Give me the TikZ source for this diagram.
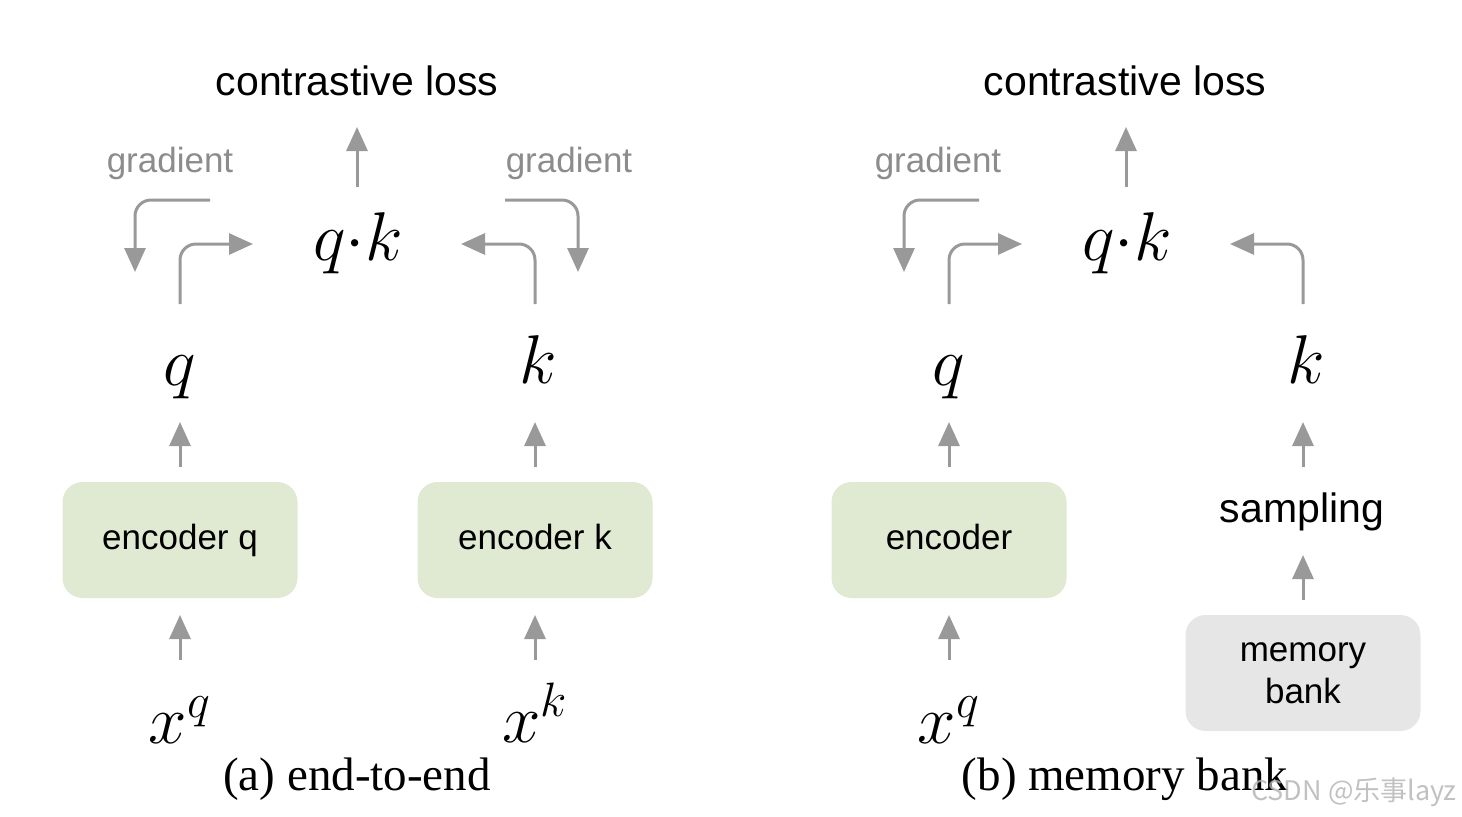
\RequirePackage{fix-cm}
\documentclass[tikz,border=0pt]{standalone}
\usepackage[no-math]{fontspec}
\setmainfont{Liberation Serif}
\setsansfont{Liberation Sans}
\newfontfamily\cjkfont{Noto Sans CJK SC}
\usetikzlibrary{arrows.meta}
\definecolor{arrgray}{RGB}{153,153,153}
\definecolor{txtgray}{RGB}{140,140,140}
\definecolor{encgreen}{RGB}{224,234,211}
\definecolor{memgray}{RGB}{230,230,230}
\begin{document}
\begin{tikzpicture}[x=0.5pt,y=-0.5pt,
  arr/.style={draw=arrgray, line width=1.5pt, -{Triangle[length=12pt,width=10.5pt]}},
  bendarr/.style={arr, rounded corners=8pt},
  lbl/.style={font=\sffamily\fontsize{20.5}{24}\selectfont, text=black, inner sep=0, anchor=base},
  grad/.style={font=\sffamily\fontsize{17.5}{21}\selectfont, text=txtgray, inner sep=0, anchor=base},
  mth/.style={font=\fontsize{34.5}{40}\selectfont, inner sep=0, anchor=base},
  encbox/.style={fill=encgreen, rounded corners=10pt, minimum width=117.5pt, minimum height=58pt, inner sep=0,
    font=\sffamily\fontsize{17.5}{21}\selectfont, align=center},
  encboxtxt/.style={encbox, text height=12.6pt, text depth=3.2pt},
  membox/.style={encbox, fill=memgray},
  captxt/.style={font=\rmfamily\fontsize{23.5}{28}\selectfont, inner sep=0, anchor=base}]
\useasboundingbox (0,0) rectangle (1462,816);

% ---------- (a) end-to-end ----------
\node[lbl] (lossA) at (357,95) {contrastive loss};
\node[mth] (qkA) at (358,260) {$q{\cdot}k$};
\node[grad] (gradAL) at (170,172) {gradient};
\node[grad] (gradAR) at (569,172) {gradient};
\node[mth] (qA) at (180,385) {$q$};
\node[mth] (kA) at (538,383) {$k$};
\node[encboxtxt] (encq) at (180,540) {encoder q};
\node[encboxtxt] (enck) at (535,540) {encoder k};
\node[mth] (xqA) at (180,743) {$x^q$};
\node[mth] (xkA) at (535,742) {$x^k$};
\node[captxt] (capA) at (357,790) {(a) end-to-end};

\coordinate (lA1) at (357,187); \coordinate (lA2) at (357,127);
\draw[arr] (lA1) -- (lA2);
% left gradient
\coordinate (gAL1) at (210,200); \coordinate (gAL2) at (135,272);
\draw[bendarr] (gAL1) -| (gAL2);
% left forward
\coordinate (fAL1) at (180,304); \coordinate (fAL2) at (253,244);
\draw[bendarr] (fAL1) |- (fAL2);
% right forward
\coordinate (fAR1) at (535,304); \coordinate (fAR2) at (461,244);
\draw[bendarr] (fAR1) |- (fAR2);
% right gradient
\coordinate (gAR1) at (505,200); \coordinate (gAR2) at (578,272);
\draw[bendarr] (gAR1) -| (gAR2);
% vertical arrows
\coordinate (a1) at (180,467); \coordinate (a2) at (180,422);
\draw[arr] (a1) -- (a2);
\coordinate (a3) at (535,467); \coordinate (a4) at (535,422);
\draw[arr] (a3) -- (a4);
\coordinate (a5) at (180,660); \coordinate (a6) at (180,615);
\draw[arr] (a5) -- (a6);
\coordinate (a7) at (535,660); \coordinate (a8) at (535,615);
\draw[arr] (a7) -- (a8);

% ---------- (b) memory bank ----------
\node[lbl] (lossB) at (1125,95) {contrastive loss};
\node[mth] (qkB) at (1127,260) {$q{\cdot}k$};
\node[grad] (gradBL) at (938,172) {gradient};
\node[mth] (qB) at (949,385) {$q$};
\node[mth] (kB) at (1306,383) {$k$};
\node[encboxtxt] (enc) at (949,540) {encoder};
\node[lbl] (samp) at (1302,522) {sampling};
\node[membox] (mem) at (1303,673) {memory\\bank};
\node[mth] (xqB) at (949,743) {$x^q$};
\node[captxt] (capB) at (1125,790) {(b) memory bank};

\coordinate (lB1) at (1126,187); \coordinate (lB2) at (1126,127);
\draw[arr] (lB1) -- (lB2);
\coordinate (gBL1) at (979,200); \coordinate (gBL2) at (904,272);
\draw[bendarr] (gBL1) -| (gBL2);
\coordinate (fBL1) at (949,304); \coordinate (fBL2) at (1022,244);
\draw[bendarr] (fBL1) |- (fBL2);
\coordinate (fBR1) at (1303,304); \coordinate (fBR2) at (1230,244);
\draw[bendarr] (fBR1) |- (fBR2);
\coordinate (b1) at (949,467); \coordinate (b2) at (949,422);
\draw[arr] (b1) -- (b2);
\coordinate (b3) at (1303,467); \coordinate (b4) at (1303,422);
\draw[arr] (b3) -- (b4);
\coordinate (b5) at (949,660); \coordinate (b6) at (949,615);
\draw[arr] (b5) -- (b6);
\coordinate (b7) at (1303,600); \coordinate (b8) at (1303,555);
\draw[arr] (b7) -- (b8);

% watermark
\node[font=\cjkfont\fontsize{13.5}{16}\selectfont, text=gray!60, opacity=0.8, inner sep=0, anchor=base] (wm) at (1354,800) {CSDN @乐事layz};
\end{tikzpicture}
\end{document}
